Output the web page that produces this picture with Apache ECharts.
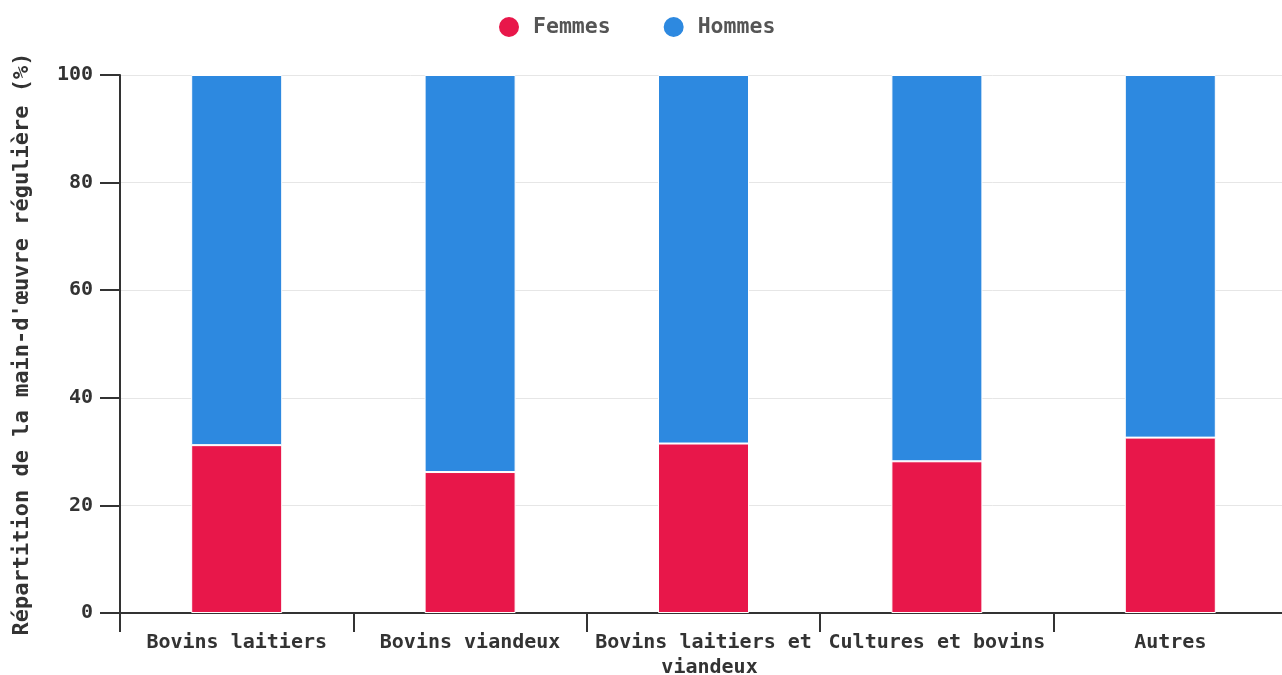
<!DOCTYPE html>
<html><head><meta charset="utf-8">
<script src="https://cdn.jsdelivr.net/npm/echarts@6/dist/echarts.min.js"></script>
<style>html,body{margin:0;padding:0;background:#fff}#c{width:1282px;height:675px}</style>
</head><body><div id="c"></div>
<script>
const categories = ["Bovins laitiers", "Bovins viandeux", "Bovins laitiers et viandeux", "Cultures et bovins", "Autres"];
const femmes = [31.2, 26.2, 31.5, 28.2, 32.6];
const hommes = [68.8, 73.8, 68.5, 71.8, 67.4];
const yTicks = [0, 20, 40, 60, 80, 100];
const FONT = '"DejaVu Sans Mono", monospace';
const chart = echarts.init(document.getElementById('c'));
chart.setOption({
  animation: false,
  textStyle: { fontFamily: FONT },
  legend: {
    top: 10, left: 492, icon: 'circle', itemWidth: 22, itemHeight: 22, itemGap: 51,
    textStyle: { fontFamily: FONT, fontWeight: 'bold', fontSize: 21.5, color: '#555', padding: [0, 0, 0, 8] },
    data: ['Femmes', 'Hommes']
  },
  grid: { left: 120, width: 1167, top: 75, height: 538, containLabel: false, outerBoundsMode: 'none' },
  xAxis: {
    type: 'category', data: categories,
    axisLine: { lineStyle: { color: '#333', width: 2 } },
    axisTick: { show: true, length: 19, lineStyle: { color: '#333', width: 2 } },
    axisLabel: { interval: 0, margin: 17, width: 228, overflow: 'break', color: '#333', fontWeight: 'bold', fontSize: 20, lineHeight: 25, fontFamily: FONT }
  },
  yAxis: {
    type: 'value', min: yTicks[0], max: yTicks[yTicks.length - 1], interval: 20,
    name: "Répartition de la main-d'œuvre régulière (%)", nameLocation: 'middle', nameGap: 87, nameRotate: 90,
    nameTextStyle: { color: '#333', fontWeight: 'bold', fontSize: 22, fontFamily: FONT },
    axisLine: { show: true, lineStyle: { color: '#333', width: 2 } },
    axisTick: { show: true, length: 20, lineStyle: { color: '#333', width: 2 } },
    axisLabel: { margin: 27, color: '#333', fontWeight: 'bold', fontSize: 20, fontFamily: FONT },
    splitLine: { lineStyle: { color: '#e6e6e6', width: 1 } }
  },
  series: [
    { name: 'Femmes', type: 'bar', stack: 't', data: femmes, barWidth: 91,
      itemStyle: { color: '#e8174a', borderColor: '#fff', borderWidth: 1 } },
    { name: 'Hommes', type: 'bar', stack: 't', data: hommes, barWidth: 91,
      itemStyle: { color: '#2d89e0', borderColor: '#fff', borderWidth: 1 } }
  ]
});
</script></body></html>
